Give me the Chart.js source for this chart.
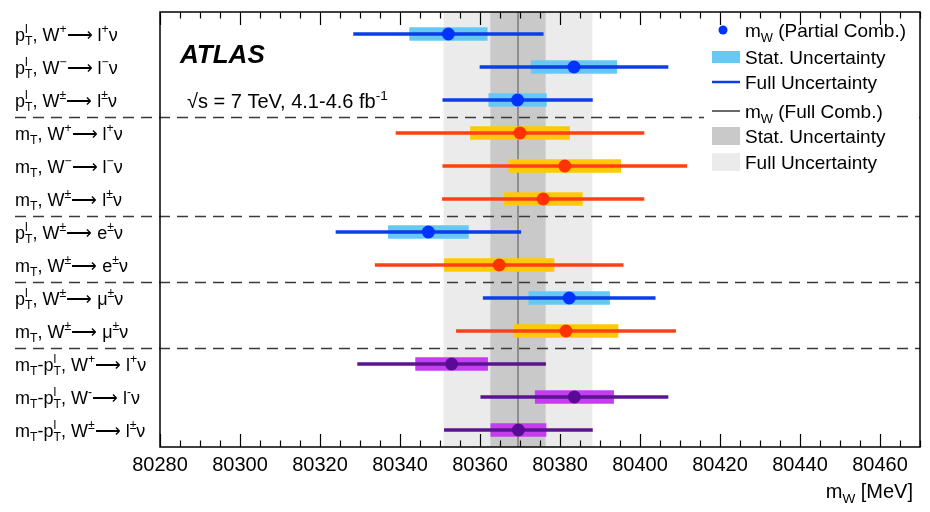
<!DOCTYPE html>
<html lang="en">
<head>
<meta charset="utf-8">
<script src="https://cdn.jsdelivr.net/npm/chart.js@4.4.1/dist/chart.umd.min.js"></script>
<style>
  body { margin: 0; background: #fff; }
  #wrap { width: 930px; height: 512px; }
</style>
</head>
<body>
<div id="wrap"><canvas id="c"></canvas></div>
<script>
// measurement categories (top to bottom), ^{} = superscript, _{} = subscript
var labels = [
    "p^{l}_{T}, W^{+}\u27f6 l^{+}\u03bd",
    "p^{l}_{T}, W^{\u2212}\u27f6 l^{\u2212}\u03bd",
    "p^{l}_{T}, W^{\u00b1}\u27f6 l^{\u00b1}\u03bd",
    "m_{T}, W^{+}\u27f6 l^{+}\u03bd",
    "m_{T}, W^{\u2212}\u27f6 l^{\u2212}\u03bd",
    "m_{T}, W^{\u00b1}\u27f6 l^{\u00b1}\u03bd",
    "p^{l}_{T}, W^{\u00b1}\u27f6 e^{\u00b1}\u03bd",
    "m_{T}, W^{\u00b1}\u27f6 e^{\u00b1}\u03bd",
    "p^{l}_{T}, W^{\u00b1}\u27f6 \u03bc^{\u00b1}\u03bd",
    "m_{T}, W^{\u00b1}\u27f6 \u03bc^{\u00b1}\u03bd",
    "m_{T}-p^{l}_{T}, W^{+}\u27f6 l^{+}\u03bd",
    "m_{T}-p^{l}_{T}, W^{-}\u27f6 l^{-}\u03bd",
    "m_{T}-p^{l}_{T}, W^{\u00b1}\u27f6 l^{\u00b1}\u03bd"
];
var kind = ['pT', 'pT', 'pT', 'mT', 'mT', 'mT', 'pT', 'mT', 'pT', 'mT', 'comb', 'comb', 'comb'];
var mW = [80352.1, 80383.5, 80369.4, 80370.0, 80381.2, 80375.8, 80347.1, 80364.8, 80382.3, 80381.5, 80352.9, 80383.6, 80369.6];
var statErr = [9.7, 10.7, 7.2, 12.4, 14.0, 9.8, 10.0, 13.7, 10.1, 13.0, 9.0, 9.8, 6.9];
var fullErr = [23.7, 23.5, 18.7, 31.0, 30.5, 25.2, 23.1, 31.0, 21.5, 27.4, 23.5, 23.4, 18.5];
var separators = [2.5, 5.5, 7.5, 9.5];

// full combination
var combMW = 80369.5;
var combStat = 6.9;
var combFull = 18.6;

var xMin = 80280, xMax = 80470;

var colors = {
    pT:   { box: '#66c8f4', line: '#0b3de8', dot: '#0033ff' },
    mT:   { box: '#ffc90a', line: '#ff4014', dot: '#ff3300' },
    comb: { box: '#c63cf2', line: '#5a1490', dot: '#5a0a96' }
};
var FONT = '"Liberation Sans", Arial, sans-serif';

function richText(ctx, s, x, y, size, draw) {
    var re = /\^\{([^}]*)\}_\{([^}]*)\}|\^\{([^}]*)\}|_\{([^}]*)\}|([^\^_]+)/g;
    var m, cx = x, small = size * 0.68;
    while ((m = re.exec(s))) {
        if (m[5] !== undefined) {
            ctx.font = size + 'px ' + FONT;
            if (draw) ctx.fillText(m[5], cx, y);
            cx += ctx.measureText(m[5]).width;
        } else {
            var sup = m[1] !== undefined ? m[1] : m[3];
            var sub = m[1] !== undefined ? m[2] : m[4];
            ctx.font = small + 'px ' + FONT;
            var w = 0;
            if (sup !== undefined) {
                if (draw) ctx.fillText(sup, cx, y - size * 0.42);
                w = Math.max(w, ctx.measureText(sup).width);
            }
            if (sub !== undefined) {
                if (draw) ctx.fillText(sub, cx, y + size * 0.24);
                w = Math.max(w, ctx.measureText(sub).width);
            }
            cx += w;
        }
    }
    return cx - x;
}

var decor = {
    id: 'decor',
    beforeDatasetsDraw: function (chart) {
        var ctx = chart.ctx, a = chart.chartArea;
        var xs = chart.scales.x, ys = chart.scales.y;
        ctx.save();
        // combination bands
        ctx.fillStyle = '#ebebeb';
        var l = xs.getPixelForValue(combMW - combFull), r = xs.getPixelForValue(combMW + combFull);
        ctx.fillRect(l, a.top, r - l, a.bottom - a.top);
        ctx.fillStyle = '#c9c9c9';
        l = xs.getPixelForValue(combMW - combStat); r = xs.getPixelForValue(combMW + combStat);
        ctx.fillRect(l, a.top, r - l, a.bottom - a.top);
        ctx.strokeStyle = '#7a7a7a';
        ctx.lineWidth = 1.5;
        var cxp = xs.getPixelForValue(combMW);
        ctx.beginPath(); ctx.moveTo(cxp, a.top); ctx.lineTo(cxp, a.bottom); ctx.stroke();
        // separators
        ctx.strokeStyle = '#3a3a3a';
        ctx.lineWidth = 1.5;
        ctx.setLineDash([11, 7]);
        separators.forEach(function (s) {
            var y = Math.round(ys.getPixelForValue(s)) + 0.5;
            ctx.beginPath(); ctx.moveTo(15, y); ctx.lineTo(a.right, y); ctx.stroke();
        });
        ctx.restore();
    },
    afterDatasetsDraw: function (chart) {
        var ctx = chart.ctx, a = chart.chartArea;
        var xs = chart.scales.x, ys = chart.scales.y;
        ctx.save();
        // legend
        ctx.fillStyle = '#fff';
        ctx.fillRect(704, a.top + 1, a.right - 705, 164);
        var lx = 712, lw = 28, tx = 745, fs = 19;
        var rows = [30, 57, 82, 111, 136, 162];
        ctx.fillStyle = colors.pT.dot;
        ctx.beginPath(); ctx.arc(723, rows[0], 4.5, 0, Math.PI * 2); ctx.fill();
        ctx.fillStyle = colors.pT.box;
        ctx.fillRect(lx, rows[1] - 6, lw, 12);
        ctx.strokeStyle = colors.pT.line; ctx.lineWidth = 2.5;
        ctx.beginPath(); ctx.moveTo(lx, rows[2]); ctx.lineTo(lx + lw, rows[2]); ctx.stroke();
        ctx.strokeStyle = '#6a6a6a'; ctx.lineWidth = 2;
        ctx.beginPath(); ctx.moveTo(lx, rows[3]); ctx.lineTo(lx + lw, rows[3]); ctx.stroke();
        ctx.fillStyle = '#c9c9c9';
        ctx.fillRect(lx, rows[4] - 9, lw, 18);
        ctx.fillStyle = '#ebebeb';
        ctx.fillRect(lx, rows[5] - 9, lw, 18);
        ctx.fillStyle = '#000';
        ctx.textBaseline = 'alphabetic';
        var texts = ['m_{W} (Partial Comb.)', 'Stat. Uncertainty', 'Full Uncertainty',
                     'm_{W} (Full Comb.)', 'Stat. Uncertainty', 'Full Uncertainty'];
        texts.forEach(function (t, i) { richText(ctx, t, tx, rows[i] + 7, fs, true); });

        // frame
        ctx.strokeStyle = '#000';
        ctx.lineWidth = 1.5;
        ctx.strokeRect(a.left, a.top, a.right - a.left, a.bottom - a.top);
        // inward ticks top and bottom
        ctx.lineWidth = 1.2;
        for (var v = xMin; v <= xMax; v += 5) {
            var px = Math.round(xs.getPixelForValue(v)) + 0.5;
            var len = (v % 20 === 0) ? 13 : 6.5;
            ctx.beginPath();
            ctx.moveTo(px, a.bottom); ctx.lineTo(px, a.bottom - len);
            ctx.moveTo(px, a.top); ctx.lineTo(px, a.top + len);
            ctx.stroke();
        }

        // category labels
        ctx.fillStyle = '#000';
        labels.forEach(function (t, i) {
            richText(ctx, t, 15, ys.getPixelForValue(i) + 6.5, 18, true);
        });

        // ATLAS label
        ctx.font = 'italic bold 26px ' + FONT;
        ctx.fillText('ATLAS', 180, 63);
        richText(ctx, '\u221as = 7 TeV, 4.1-4.6 fb^{-1}', 187, 108, 20, true);

        // axis title
        var tt = 'm_{W} [MeV]';
        var w = richText(ctx, tt, 0, 0, 20, false);
        richText(ctx, tt, 913 - w, 498, 20, true);
        ctx.restore();
    }
};

var boxData = mW.map(function (m, i) { return { x: [m - statErr[i], m + statErr[i]], y: i }; });
var lineData = mW.map(function (m, i) { return { x: [m - fullErr[i], m + fullErr[i]], y: i }; });
var dotData = mW.map(function (m, i) { return { x: m, y: i }; });

new Chart(document.getElementById('c'), {
    type: 'bar',
    data: {
        datasets: [{
            type: 'scatter',
            data: dotData,
            order: 0,
            pointRadius: 6.5,
            pointBorderWidth: 0,
            pointBackgroundColor: kind.map(function (k) { return colors[k].dot; })
        }, {
            data: lineData,
            indexAxis: 'y',
            grouped: false,
            order: 1,
            barThickness: 3,
            backgroundColor: kind.map(function (k) { return colors[k].line; })
        }, {
            data: boxData,
            indexAxis: 'y',
            grouped: false,
            order: 2,
            barThickness: 13,
            backgroundColor: kind.map(function (k) { return colors[k].box; })
        }]
    },
    options: {
        responsive: true,
        maintainAspectRatio: false,
        animation: false,
        events: [],
        layout: { padding: { left: 160, right: 10, top: 12, bottom: 35 } },
        plugins: { legend: { display: false }, tooltip: { enabled: false } },
        scales: {
            x: {
                type: 'linear',
                min: xMin,
                max: xMax,
                offset: false,
                grid: { display: false, drawTicks: false, offset: false },
                border: { display: false },
                afterFit: function (scale) { scale.height = 30; },
                ticks: {
                    stepSize: 20,
                    includeBounds: false,
                    padding: 6,
                    maxRotation: 0,
                    color: '#000',
                    font: { family: FONT, size: 20 },
                    callback: function (v) { return v % 20 === 0 ? String(v) : ''; }
                }
            },
            y: {
                type: 'linear',
                reverse: true,
                min: -0.667,
                max: 12.515,
                offset: false,
                grid: { display: false, offset: false },
                display: false
            }
        }
    },
    plugins: [decor]
});
</script>
</body>
</html>
